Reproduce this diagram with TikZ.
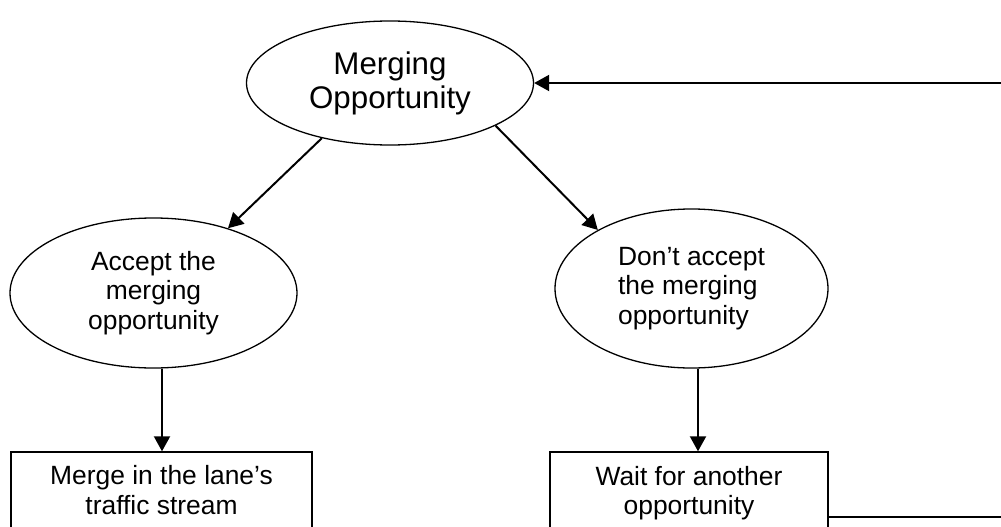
\documentclass[tikz,border=0pt]{standalone}
\usepackage{fontspec}
\setmainfont{Liberation Sans}
\usetikzlibrary{shapes.geometric,arrows.meta}
\begin{document}
\begin{tikzpicture}[x=1pt,y=-1pt,
  shp/.style={draw=black, line width=1.3pt, ellipse, inner sep=0pt},
  boxs/.style={draw=black, line width=1.4pt, rectangle, inner sep=0pt},
  small/.style={font=\fontsize{26.4}{29.5}\selectfont},
  big/.style={font=\fontsize{31.3}{34}\selectfont},
  arr/.style={line width=2pt, -{Triangle[length=15pt,width=16pt]}},
  conn/.style={line width=2pt}]
\useasboundingbox (0,0) rectangle (1001,527);
\clip (0,0) rectangle (1001,527);
% ellipses
\node[shp, big, align=center, minimum width=287pt, minimum height=124pt] (top) at (390,83) {Merging\\Opportunity};
\node[shp, small, align=center, minimum width=287pt, minimum height=150pt] (left) at (153.5,293) {Accept the\\merging\\opportunity};
\node[shp, small, align=left, minimum width=273pt, minimum height=159pt] (right) at (691.5,288.5) {Don’t accept\\the merging\\opportunity};
% boxes
\node[boxs, minimum width=301pt, minimum height=130pt] (lbox) at (161.5,517) {};
\node[boxs, minimum width=278pt, minimum height=130pt] (rbox) at (689,517) {};
\node[small, align=center, inner sep=0pt] (lboxt) at (161.5,490) {Merge in the lane’s\\traffic stream};
\node[small, align=center, inner sep=0pt] (rboxt) at (689,493) {Wait for another\\opportunity};
% connectors
\draw[arr] (top.219) -- (left.41);
\draw[arr] (top.-22) -- (right.148);
\draw[arr] ([xshift=0.5pt]lbox.north |- left.south) -- ([xshift=0.5pt]lbox.north);
\draw[arr] ([xshift=9pt]rbox.north |- right.south) -- ([xshift=9pt]rbox.north);
\coordinate (c1) at (1012,517);
\coordinate (c2) at (1012,83);
\draw[conn] (rbox.east) -- (c1) -- (c2);
\draw[arr] (c2) -- (top.east);
\end{tikzpicture}
\end{document}
